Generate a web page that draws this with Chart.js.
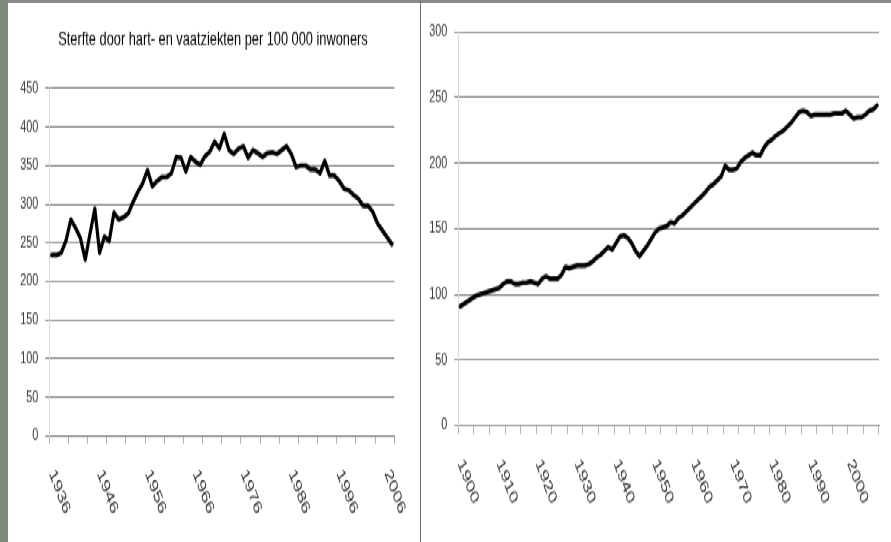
<!DOCTYPE html>
<html>
<head>
<meta charset="utf-8">
<script src="https://cdn.jsdelivr.net/npm/chart.js@4.4.1/dist/chart.umd.min.js"></script>
<style>
  html, body { margin: 0; padding: 0; background: #fff; }
  body { width: 891px; height: 542px; position: relative; overflow: hidden; }
  #leftBand { position: absolute; left: 0; top: 0; width: 8px; height: 542px; background: #7d8a7c; }
  #topBand { position: absolute; left: 8px; top: 0; width: 883px; height: 3px; background: #8b8b8b; }
  #divider { position: absolute; left: 420px; top: 0; width: 1px; height: 542px; background: #6e6e6e; }
  /* the reference is stretched vertically, so draw short and scale up */
  #stage { position: absolute; left: 0; top: 0; width: 891px; height: 361px;
           transform: scaleY(1.5014); transform-origin: 0 0; }
  #leftChart { position: absolute; left: 8px; top: 0; }
  #rightChart { position: absolute; left: 422px; top: 0; }
</style>
</head>
<body>
<div id="stage">
  <canvas id="leftChart" width="412" height="361"></canvas>
  <canvas id="rightChart" width="469" height="361"></canvas>
</div>
<div id="leftBand"></div>
<div id="topBand"></div>
<div id="divider"></div>
<script>
// Left chart: deaths from heart and vascular disease per 100 000, 1936-2007
const leftYears = Array.from({ length: 72 }, (_, i) => String(1936 + i));
const leftValues = [
  234, 234, 237, 253, 280, 269, 256, 228, 262, 294,
  237, 258, 252, 289, 280, 283, 288, 303, 316, 327,
  344, 323, 330, 335, 335, 340, 361, 360, 342, 361,
  355, 351, 362, 368, 381, 372, 391, 370, 365, 372,
  375, 360, 370, 366, 361, 366, 367, 365, 370, 375,
  365, 348, 350, 350, 345, 345, 340, 356, 337, 337,
  330, 320, 318, 312, 307, 298, 298, 290, 275, 266,
  257, 248
];
const leftTickLabels = ['1936', '1946', '1956', '1966', '1976', '1986', '1996', '2006'];

// Right chart: 1900-2007
const rightYears = Array.from({ length: 108 }, (_, i) => String(1900 + i));
const rightValues = [
  91, 93, 95, 97, 99, 100, 101, 102, 103, 104,
  105, 108, 110, 110, 108, 108, 109, 109, 110, 109,
  108, 112, 114, 112, 112, 112, 115, 121, 120, 121,
  122, 122, 122, 123, 125, 128, 130, 133, 136, 134,
  139, 144, 145, 143, 139, 133, 129, 133, 137, 142,
  147, 150, 151, 152, 155, 154, 158, 160, 163, 166,
  169, 172, 175, 178, 182, 184, 187, 190, 198, 195,
  195, 196, 201, 204, 206, 208, 206, 206, 212, 216,
  218, 221, 223, 225, 228, 231, 235, 239, 240, 239,
  236, 237, 237, 237, 237, 237, 238, 238, 238, 240,
  237, 234, 235, 235, 237, 240, 241, 244
];
const rightTickLabels = ['1900', '1910', '1920', '1930', '1940', '1950', '1960', '1970', '1980', '1990', '2000'];

const FONT = "'Liberation Sans', Arial, sans-serif";
const GRID = '#888888';

// category labels drawn slanting down to the right, like the Excel original
const slantedLabels = {
  id: 'slantedLabels',
  afterDraw(chart, args, opts) {
    const xs = chart.scales.x;
    const ctx = chart.ctx;
    ctx.save();
    ctx.fillStyle = '#2e2e2e';
    ctx.font = '12px ' + FONT;
    ctx.textAlign = 'left';
    ctx.textBaseline = 'middle';
    chart.data.labels.forEach((year, i) => {
      if (!opts.labels.includes(year)) return;
      ctx.save();
      ctx.translate(xs.getPixelForValue(i), xs.top + opts.offset);
      ctx.rotate(61 * Math.PI / 180);
      ctx.scale(1.2, 1);
      ctx.fillText(year, 0, 0);
      ctx.restore();
    });
    ctx.restore();
  }
};

// title placed by hand: the plot area is not centred under it
const chartTitle = {
  id: 'chartTitle',
  afterDraw(chart, args, opts) {
    if (!opts.text) return;
    const ctx = chart.ctx;
    ctx.save();
    ctx.fillStyle = '#000';
    ctx.font = '12.8px ' + FONT;
    ctx.textAlign = 'center';
    ctx.textBaseline = 'middle';
    ctx.fillText(opts.text, opts.x, opts.y);
    ctx.restore();
  }
};

function makeChart(canvas, cfg) {
  return new Chart(canvas, {
    type: 'line',
    data: {
      labels: cfg.labels,
      datasets: [{
        data: cfg.values,
        borderColor: '#000',
        borderWidth: 3.2,
        borderJoinStyle: 'round',
        borderCapStyle: 'round',
        pointRadius: 0,
        tension: 0
      }]
    },
    options: {
      responsive: false,
      animation: false,
      layout: { padding: cfg.padding },
      scales: {
        x: {
          type: 'category',
          offset: true,
          afterFit: s => { s.height = cfg.xHeight; },
          grid: {
            offset: true,
            drawOnChartArea: false,
            tickLength: 5.5,
            color: c => (c.index === undefined || c.index % 4 === 0) ? '#b4b4b4' : 'rgba(0,0,0,0)'
          },
          border: { color: GRID, width: 1 },
          ticks: { display: false, autoSkip: false }
        },
        y: {
          min: 0,
          max: cfg.max,
          afterFit: s => { s.width = cfg.yWidth; },
          grid: { color: GRID, tickLength: 4 },
          border: { color: '#d9d9d9', width: 1 },
          ticks: {
            stepSize: 50,
            padding: 7,
            color: '#333',
            font: { family: FONT, size: 10.8 }
          }
        }
      },
      plugins: {
        legend: { display: false },
        tooltip: { enabled: false },
        chartTitle: cfg.title,
        slantedLabels: { labels: cfg.tickLabels, offset: 23.3 }
      }
    },
    plugins: [slantedLabels, chartTitle]
  });
}

makeChart(document.getElementById('leftChart'), {
  labels: leftYears,
  values: leftValues,
  tickLabels: leftTickLabels,
  max: 450,
  padding: { left: 0, right: 25.7, top: 58.8, bottom: 0 },
  yWidth: 41.3,
  xHeight: 70.6,
  title: { text: 'Sterfte door hart- en vaatziekten per 100 000 inwoners', x: 205, y: 26.6 }
});

makeChart(document.getElementById('rightChart'), {
  labels: rightYears,
  values: rightValues,
  tickLabels: rightTickLabels,
  max: 300,
  padding: { left: 0, right: 12, top: 21.3, bottom: 0 },
  yWidth: 36.3,
  xHeight: 77.5,
  title: {}
});
</script>
</body>
</html>
